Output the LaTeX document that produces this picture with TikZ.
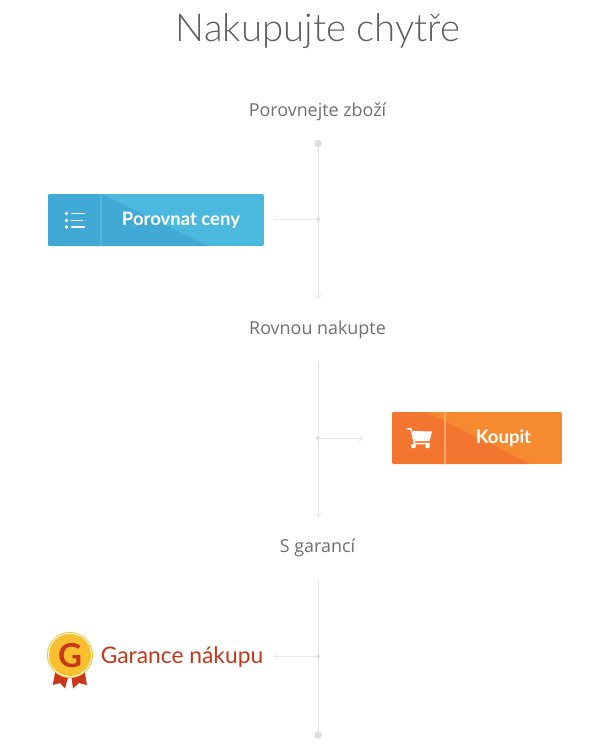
\documentclass[tikz,border=0pt]{standalone}
\usepackage{fontspec}
\setmainfont{Open Sans}
\newfontfamily\lightfont{Lato Light}
\newfontfamily\regfont{Lato}
\usetikzlibrary{arrows.meta}
\definecolor{linec}{HTML}{E2E2E2}
\definecolor{hlinec}{HTML}{EBEBEB}
\definecolor{dotc}{HTML}{DDDDDD}
\definecolor{headc}{HTML}{707070}
\definecolor{titlec}{HTML}{5F5F5F}
\definecolor{blueD}{HTML}{41A9D6}
\definecolor{blueL}{HTML}{4BB9DD}
\definecolor{orD}{HTML}{F3752F}
\definecolor{orL}{HTML}{F58A30}
\definecolor{redc}{HTML}{C8371B}
\definecolor{goldc}{HTML}{FBBF2D}
\tikzset{
  x=1pt,y=-1pt,
  flowline/.style={draw=linec,line width=1pt},
  sideline/.style={draw=hlinec,line width=1pt},
  tipped/.style={-{Straight Barb[length=3.5pt,width=7pt,line width=.7pt]}},
  heading/.style={text=headc,font=\fontsize{17.9}{20}\selectfont,inner sep=0pt},
  endpoint/.style={circle,fill=dotc,minimum size=7.5pt,inner sep=0pt},
  junction/.style={circle,fill=dotc,minimum size=4pt,inner sep=0pt},
  btntext/.style={text=white,font=\regfont\bfseries\fontsize{18.5}{20}\selectfont,inner sep=0pt},
  iconline/.style={white,line width=1.8pt},
}
\begin{document}
\begin{tikzpicture}
\useasboundingbox (0,0) rectangle (611,752);
% texts
\node[text=titlec,inner sep=0pt,font=\lightfont\fontsize{38.4}{44}\selectfont] (title) at (318,31) {Nakupujte chytře};
\node[heading] (h1) at (317.5,111.5) {Porovnejte zboží};
\node[heading] (h2) at (317.5,329.5) {Rovnou nakupte};
\node[heading] (h3) at (317.5,547.5) {S garancí};
% flow nodes
\node[endpoint] (start) at (318,143.5) {};
\coordinate (end1) at (318,299);
\node[junction] (j1) at (318,219) {};
\coordinate (left1) at (274,219);
\coordinate (top2) at (318,362);
\coordinate (end2) at (318,517);
\node[junction] (j2) at (318,438) {};
\coordinate (right2) at (363,438);
\coordinate (top3) at (318,581);
\node[endpoint] (stop) at (318,735) {};
\node[junction] (j3) at (318,656.5) {};
\coordinate (left3) at (274,656.5);
\draw[flowline,tipped] (start) -- (end1);
\draw[flowline,tipped] (top2) -- (end2);
\draw[flowline] (top3) -- (stop);
\draw[sideline,tipped] (j1) -- (left1);
\draw[flowline,tipped] (j2) -- (right2);
\draw[sideline,tipped] (j3) -- (left3);
% blue button
\begin{scope}
\clip[rounded corners=2pt] (48,194) rectangle (264,246);
\fill[blueL] (48,194) rectangle (264,246);
\fill[blueD] (48,194) -- (102,194) -- (208,246) -- (48,246) -- cycle;
\fill[blueL] (100,194) rectangle (101.5,246);
\end{scope}
\node[btntext] (porovnat) at (181,220.5) {Porovnat ceny};
\fill[white] (66.5,213.5) circle (1.8) (66.5,220.5) circle (1.8) (66.5,227) circle (1.8);
\draw[iconline] (71,213.5) -- (85,213.5) (71,220.5) -- (83,220.5) (71,227) -- (85,227);
% orange button
\begin{scope}
\clip[rounded corners=2pt] (392,412) rectangle (562,464);
\fill[orL] (392,412) rectangle (562,464);
\fill[orD] (392,412) -- (426,412) -- (530,464) -- (392,464) -- cycle;
\fill[orL!75!white] (444,412) rectangle (445.5,464);
\end{scope}
\node[btntext] (koupit) at (503.5,438) {Koupit};
\draw[white,line width=1.5pt,line join=round] (406.5,428.5) -- (411,429) -- (414.5,443.5) -- (430,443.5);
\fill[white] (412.5,431) -- (432,431.5) -- (429.5,441) -- (414.8,441) -- cycle;
\fill[white] (413.5,446) circle (2.4) (427.5,446) circle (2.4);
% badge
\fill[redc] (56,668) -- (52.7,685) -- (60,683) -- (65,688.5) -- (69,674) -- cycle;
\fill[redc] (71,674) -- (73,688.5) -- (79,683) -- (87,685) -- (84,668) -- cycle;
\fill[goldc!90!yellow] (70,655) circle (23);
\fill[white] (70,655) circle (22);
\fill[goldc] (70,655) circle (21);
\node[text=redc,inner sep=0pt,font=\regfont\bfseries\fontsize{33}{33}\selectfont] (gee) at (70,655.5) {G};
\node[text=redc,inner sep=0pt,font=\regfont\fontsize{22.8}{24}\selectfont] (garance) at (182,657.5) {Garance nákupu};
\end{tikzpicture}
\end{document}
